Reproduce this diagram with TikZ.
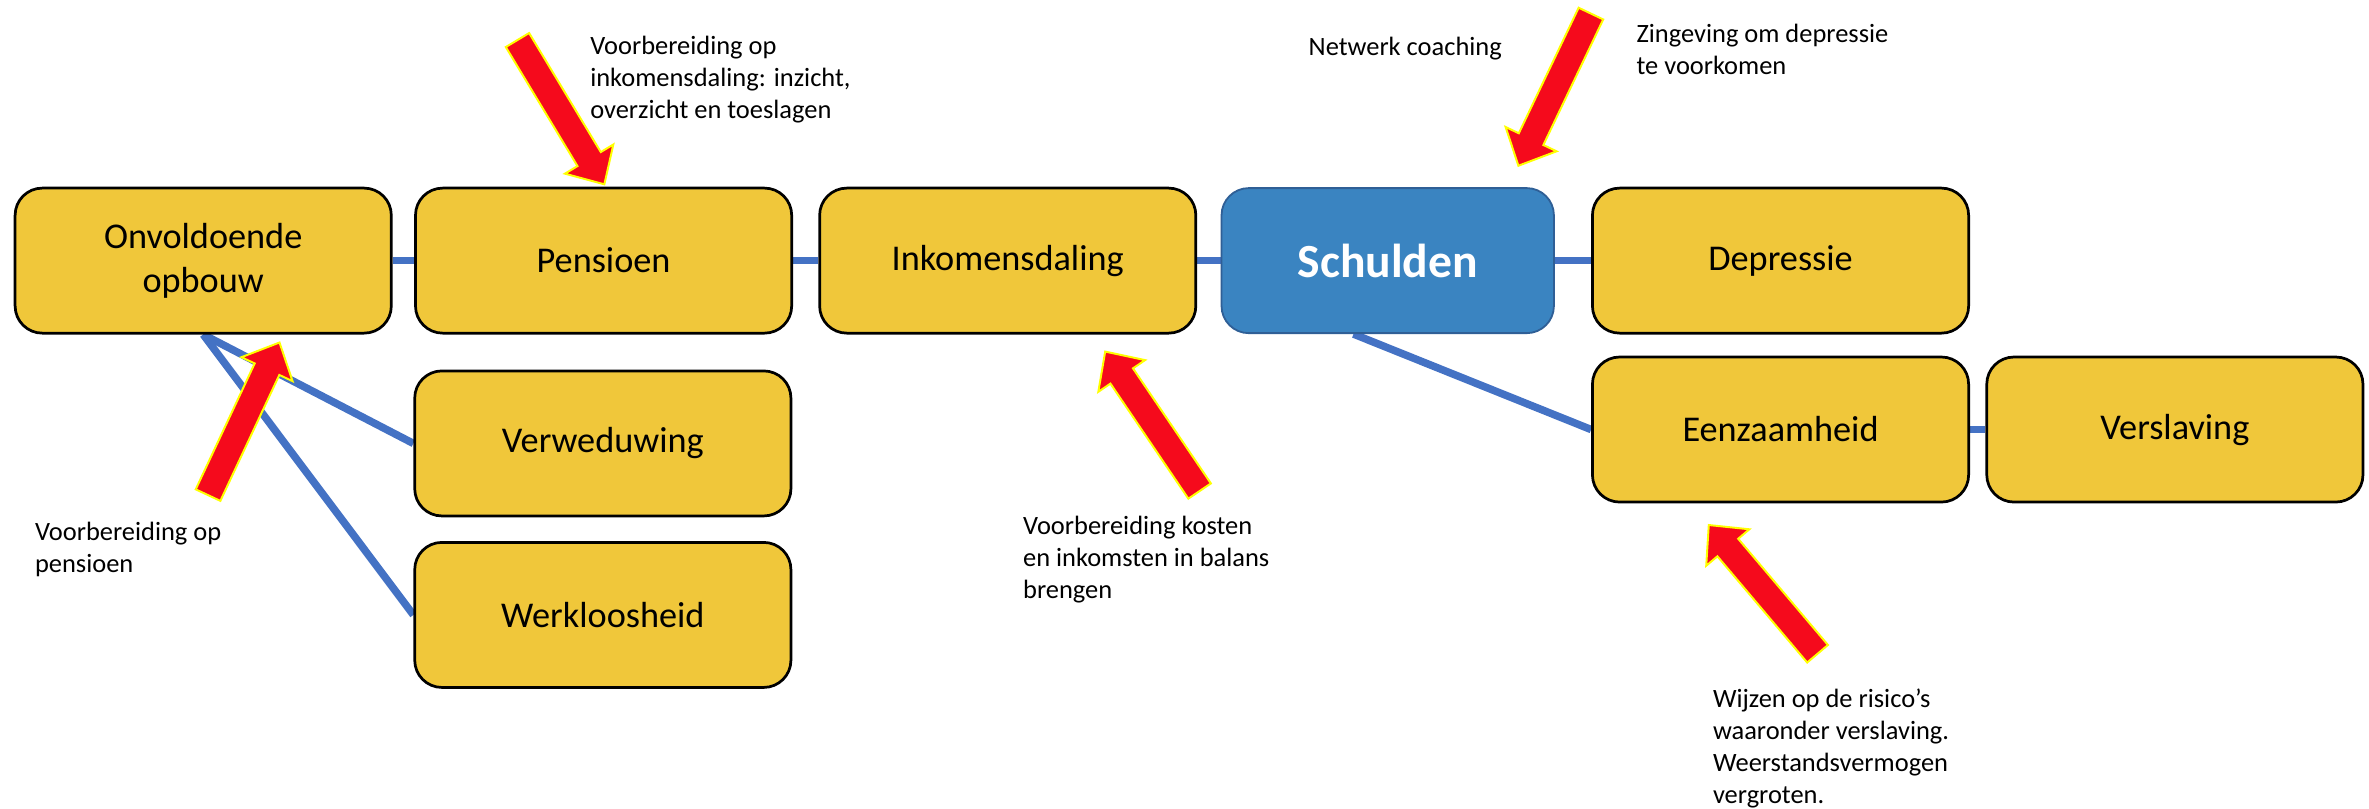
\documentclass[tikz,border=0pt]{standalone}
\usepackage{fontspec}
\setmainfont{Carlito}
\usepackage{tikz}
\usetikzlibrary{calc,backgrounds}

\definecolor{blokgeel}{RGB}{240,199,58}
\definecolor{kernblauw}{RGB}{58,132,193}
\definecolor{kernrand}{RGB}{47,95,150}
\definecolor{lijnblauw}{RGB}{68,114,196}
\definecolor{pijlrood}{RGB}{245,10,28}
\definecolor{pijlrand}{RGB}{255,255,0}

\tikzset{
  blok/.style={draw=black, line width=1.8pt, fill=blokgeel, rounded corners=18pt,
    minimum width=249pt, minimum height=96pt, inner sep=0pt, align=center,
    font=\fontsize{24}{29}\selectfont},
  kern/.style={blok, draw=kernrand, fill=kernblauw, line width=1.2pt, minimum width=220pt,
    text=white, font=\bfseries\fontsize{31.5}{36}\selectfont},
  lijn/.style={draw=lijnblauw, line width=5pt},
  uitleg/.style={anchor=base west, inner sep=0pt, align=left,
    font=\fontsize{17.5}{21}\selectfont},
  pijlvorm/.style={fill=pijlrood, draw=pijlrand, line width=1.3pt, line join=miter}
}

% block arrow from tail #1 to tip #2
\newcommand{\pijl}[2]{%
  \path[pijlvorm] ($(#1)!9pt!90:(#2)$) -- ($(#2)!19.5pt!(#1)!9pt!90:(#2)$)
    -- ($(#2)!19.5pt!(#1)!18.7pt!90:(#2)$) -- (#2)
    -- ($(#2)!19.5pt!(#1)!18.7pt!-90:(#2)$) -- ($(#2)!19.5pt!(#1)!9pt!-90:(#2)$)
    -- ($(#1)!9pt!-90:(#2)$) -- cycle;}

\begin{document}
\begin{tikzpicture}[x=1pt, y=-1pt]
    \useasboundingbox (0,0) rectangle (1568,535.4);

    % The chain of boxes
    \node[blok] (onvol) at (134.5,172.5) {Onvoldoende\\opbouw};
    \node[blok] (pensioen) at (399.5,172.5) {Pensioen};
    \node[blok] (inkomen) at (667,172.5) {Inkomensdaling};
    \node[kern] (schulden) at (918.5,172.5) {Schulden};
    \node[blok] (depressie) at (1178.5,172.5) {Depressie};
    \node[blok] (eenzaam) at (1178.5,284.3) {Eenzaamheid};
    \node[blok] (verslaving) at (1439.5,284.3) {Verslaving};
    \node[blok] (weduwe) at (399,293.5) {Verweduwing};
    \node[blok] (werkloos) at (399,407) {Werkloosheid};

    % Connectors behind the boxes
    \begin{scope}[on background layer]
        \draw[lijn] (onvol) -- (pensioen);
        \draw[lijn] (pensioen) -- (inkomen);
        \draw[lijn] (inkomen) -- (schulden);
        \draw[lijn] (schulden) -- (depressie);
        \draw[lijn] (eenzaam) -- (verslaving);
        \draw[lijn] (onvol.south) -- (weduwe.west);
        \draw[lijn] (onvol.south) -- (werkloos.west);
        \draw[lijn] (schulden.-115) -- (eenzaam.west);
    \end{scope}

    % Notes (placed at the baseline of their last line)
    \node[uitleg] (tinkomen) at (390.5,78.4) {Voorbereiding op\\inkomensdaling: inzicht,\\overzicht en toeslagen};
    \node[uitleg] (tnetwerk) at (866,37) {Netwerk coaching};
    \node[uitleg] (tzin) at (1083,49.2) {Zingeving om depressie\\te voorkomen};
    \node[uitleg] (tpensioen) at (23,379) {Voorbereiding op\\pensioen};
    \node[uitleg] (tbalans) at (677,396) {Voorbereiding kosten\\en inkomsten in balans\\brengen};
    \node[uitleg] (trisico) at (1133.6,531.5) {Wijzen op de risico’s\\waaronder verslaving.\\Weerstandsvermogen\\vergroten.};

    % Red arrows (tail, tip)
    \coordinate (staart1) at (342.5,26.5);  \coordinate (punt1) at (400,122);
    \coordinate (staart2) at (1053,9);      \coordinate (punt2) at (1005,109.7);
    \coordinate (staart3) at (137.7,327.7); \coordinate (punt3) at (185,226.7);
    \coordinate (staart4) at (794,325);     \coordinate (punt4) at (731.5,232.7);
    \coordinate (staart5) at (1203,432.7);  \coordinate (punt5) at (1131,347.5);
    \foreach \i in {1,...,5} {\pijl{staart\i}{punt\i}}

\end{tikzpicture}
\end{document}
